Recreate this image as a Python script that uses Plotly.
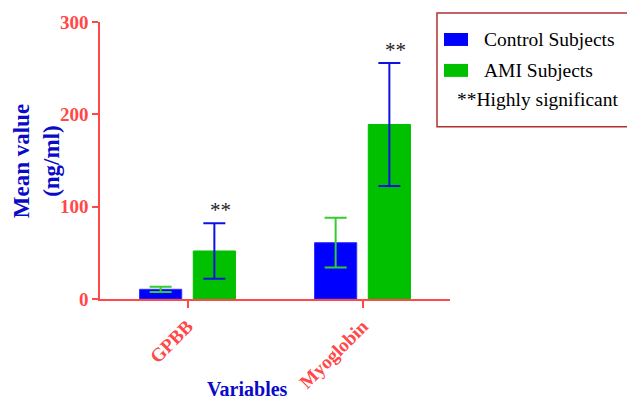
import plotly.graph_objects as go

categories = ["GPBB", "Myoglobin"]
control_mean = [10.5, 61]
control_err = [2.8, 27]
ami_mean = [52, 189]
ami_err = [30, 66.5]
y_ticks = [0, 100, 200, 300]
legend_labels = ["Control Subjects", "AMI Subjects", "**Highly significant"]

RED = "#ff4848"
BLUE_T = "#0a0ac8"
FONT = "Liberation Serif"
BAR_BLUE = "#0000ff"
BAR_GREEN = "#00c000"

# page has an 8px body margin; plot-area geometry in page pixels
OFF = 8
PL, PR, PT, PB = 100, 450, 22, 299.5
W, H = 635 - OFF, 399 - OFF


def px(x):
    return (x - PL) / (PR - PL)


def py(y):
    return (PB - y) / (PB - PT)


fig = go.Figure()
fig.add_trace(go.Bar(
    x=categories, y=control_mean, name=legend_labels[0],
    marker=dict(color=BAR_BLUE, line=dict(color="#3030ff", width=1)),
    error_y=dict(type="data", array=control_err, color="#33cc33", thickness=2, width=11),
))
fig.add_trace(go.Bar(
    x=categories, y=ami_mean, name=legend_labels[1],
    marker=dict(color=BAR_GREEN, line=dict(color=BAR_GREEN, width=1)),
    error_y=dict(type="data", array=ami_err, color="#1010e0", thickness=2, width=11),
))

annotations = []
for i, c in enumerate(categories):
    annotations.append(dict(
        x=c, y=ami_mean[i] + ami_err[i], xref="x", yref="y",
        text="**", showarrow=False, xshift=32.5, yanchor="bottom", yshift=-1,
        font=dict(family=FONT, size=21, color="#222222"),
    ))

# axis titles
annotations.append(dict(
    x=px(247), y=py(390), xref="paper", yref="paper",
    text="<b>Variables</b>", showarrow=False, xanchor="center", yanchor="middle",
    font=dict(family=FONT, size=20, color=BLUE_T),
))
annotations.append(dict(
    x=px(36.5), y=py(161), xref="paper", yref="paper",
    text="<b>Mean value<br>(ng/ml)</b>", showarrow=False, textangle=-90,
    xanchor="center", yanchor="middle",
    font=dict(family=FONT, size=23, color=BLUE_T),
))

# legend (drawn)
legend_font = dict(family=FONT, size=19.5, color="#000000")
annotations.append(dict(
    x=px(482), y=py(40), xref="paper", yref="paper", text=legend_labels[0],
    showarrow=False, xanchor="left", yanchor="middle", font=legend_font,
))
annotations.append(dict(
    x=px(482), y=py(71), xref="paper", yref="paper", text=legend_labels[1],
    showarrow=False, xanchor="left", yanchor="middle", font=legend_font,
))
annotations.append(dict(
    x=px(455), y=py(100), xref="paper", yref="paper", text=legend_labels[2],
    showarrow=False, xanchor="left", yanchor="middle", font=legend_font,
))

shapes = [
    dict(type="rect", xref="paper", yref="paper",
         x0=px(437), x1=px(633), y0=py(127), y1=py(13),
         line=dict(color="#b03030", width=1.5), fillcolor="rgba(0,0,0,0)"),
    dict(type="rect", xref="paper", yref="paper",
         x0=px(444), x1=px(468), y0=py(46), y1=py(33),
         line=dict(width=0), fillcolor=BAR_BLUE),
    dict(type="rect", xref="paper", yref="paper",
         x0=px(444), x1=px(468), y0=py(77), y1=py(64),
         line=dict(width=0), fillcolor=BAR_GREEN),
]

fig.update_layout(
    width=W, height=H,
    margin=dict(l=PL - OFF, r=W - (PR - OFF), t=PT - OFF, b=H - (PB - OFF)),
    paper_bgcolor="white", plot_bgcolor="white",
    barmode="group", bargap=0.386, bargroupgap=0.215,
    showlegend=False,
    annotations=annotations,
    shapes=shapes,
)
fig.update_xaxes(
    range=[-0.5, 1.5], showline=True, linecolor=RED, linewidth=1.5,
    ticks="outside", ticklen=7, tickcolor=RED, tickwidth=1.5,
    tickangle=-45, tickfont=dict(family=FONT, size=19, color=RED, weight="bold"),
    showgrid=False, zeroline=False, automargin=False,
)
fig.update_yaxes(
    range=[0, 300], tickvals=y_ticks, showline=True, linecolor=RED, linewidth=1.5,
    ticks="outside", ticklen=6, tickcolor=RED, tickwidth=1.5,
    tickfont=dict(family=FONT, size=19, color=RED, weight="bold"),
    showgrid=False, zeroline=False, automargin=False,
)

fig.write_html("out.html")
